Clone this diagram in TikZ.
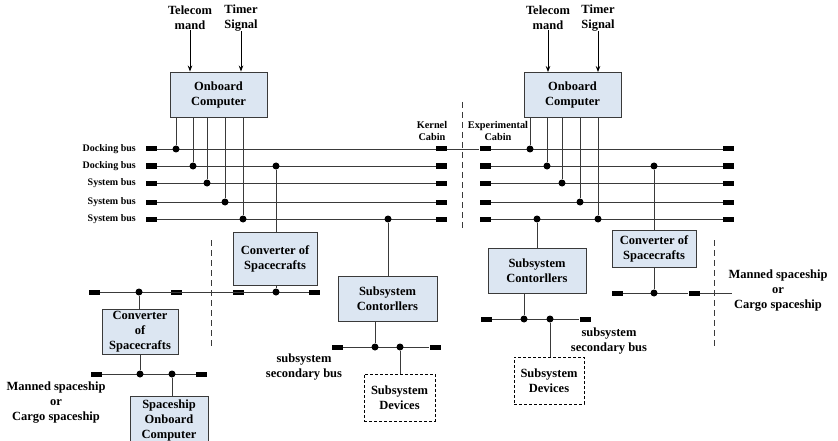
\documentclass[tikz,border=0pt]{standalone}
\usepackage{fontspec}
\setmainfont{Liberation Serif}
\usetikzlibrary{arrows.meta}
\definecolor{boxfill}{HTML}{DCE6F2}
\definecolor{edge}{HTML}{3A3A3A}
\tikzset{
  blk/.style={draw=edge, line width=0.9pt, fill=boxfill, inner sep=0pt, align=center,
    font=\fontsize{12.5}{15}\selectfont\bfseries},
  dblk/.style={draw=black, densely dashed, line width=0.7pt, fill=white, inner sep=0pt, align=center,
    font=\fontsize{12.5}{15}\selectfont\bfseries},
  term/.style={rectangle, fill=black, minimum width=11pt, minimum height=5pt, inner sep=0pt},
  jdot/.style={circle, fill=black, minimum size=7pt, inner sep=0pt},
  lbl/.style={align=center, inner sep=0pt, font=\fontsize{12.5}{15}\selectfont\bfseries},
  slbl/.style={align=center, inner sep=0pt, font=\fontsize{10.3}{12}\selectfont\bfseries},
  buslbl/.style={anchor=east, inner sep=0pt, font=\fontsize{10}{12}\selectfont\bfseries},
  wire/.style={draw=edge, line width=0.8pt},
  sep/.style={draw=edge, dashed, dash pattern=on 6pt off 4pt, line width=0.8pt},
  sig/.style={draw=black, line width=0.8pt, -{Stealth[length=6pt,width=4.5pt]}}
}
\begin{document}
\begin{tikzpicture}[x=1pt,y=-1pt]
\useasboundingbox (0,0) rectangle (838,441);

% ---------- top inputs and computers ----------
\node[lbl] (tcL) at (190,18) {Telecom\\mand};
\node[lbl] (tsL) at (241,18) {Timer\\Signal};
\node[lbl] (tcR) at (548,18) {Telecom\\mand};
\node[lbl] (tsR) at (598,18) {Timer\\Signal};
\node[blk, minimum width=97pt, minimum height=45pt] (ocL) at (218.5,94.5) {Onboard\\Computer};
\node[blk, minimum width=97pt, minimum height=45pt] (ocR) at (572.5,95) {Onboard\\Computer};
\draw[sig] (tcL.south) -- (tcL.south |- ocL.north);
\draw[sig] (tsL.south) -- (tsL.south |- ocL.north);
\draw[sig] (tcR.south) -- (tcR.south |- ocR.north);
\draw[sig] (tsR.south) -- (tsR.south |- ocR.north);

% ---------- bus labels ----------
\node[buslbl] at (136,149) {Docking bus};
\node[buslbl] at (136,166) {Docking bus};
\node[buslbl] at (136,183) {System bus};
\node[buslbl] at (136,202) {System bus};
\node[buslbl] at (136,219) {System bus};
\node[slbl] (kc) at (432,131) {Kernel\\Cabin};
\node[slbl] (ec) at (498,131) {Experimental\\Cabin};

% ---------- main buses ----------
\foreach \i/\y in {1/149,2/166,3/183,4/202,5/219}{
  \node[term] (la\i) at (151.5,\y) {};
  \node[term] (lb\i) at (441.5,\y) {};
  \node[term] (ra\i) at (485,\y) {};
  \node[term] (rb\i) at (728.5,\y) {};
  \draw[wire] (la\i) -- (lb\i);
  \draw[wire] (ra\i) -- (rb\i);
}
\draw[wire] (lb1) -- (ra1);

% separators
\coordinate (s1a) at (462,102); \coordinate (s1b) at (462,230);
\draw[sep] (s1a) -- (s1b);
\coordinate (s2a) at (211,240); \coordinate (s2b) at (211,347);
\draw[sep] (s2a) -- (s2b);
\coordinate (s3a) at (714,240); \coordinate (s3b) at (714,346);
\draw[sep] (s3a) -- (s3b);

% computer taps (left)
\foreach \i/\x/\y in {1/176/149,2/193/166,3/207/183,4/225/202,5/243/219}{
  \node[jdot] (ld\i) at (\x,\y) {};
  \draw[wire] (ld\i) -- (ld\i |- ocL.south);
}
% computer taps (right)
\foreach \i/\x/\y in {1/530/149,2/547/166,3/562/183,4/580/202,5/598/219}{
  \node[jdot] (rd\i) at (\x,\y) {};
  \draw[wire] (rd\i) -- (rd\i |- ocR.south);
}

% ---------- middle converter ----------
\node[jdot] (cvtapL) at (276,166) {};
\node[blk, minimum width=84pt, minimum height=53pt] (cv1) at (275,258.5) {Converter of\\Spacecrafts};
\draw[wire] (cvtapL) -- (cvtapL |- cv1.north);

\node[term] (ma) at (94.5,292) {};
\node[term] (mb) at (176.5,292) {};
\node[term] (mc) at (238,292) {};
\node[term] (md) at (314.5,292) {};
\draw[wire] (ma) -- (md);
\node[jdot] (m1) at (139,292) {};
\node[jdot] (m2) at (276,292) {};
\draw[wire] (m2) -- (m2 |- cv1.south);

% left lower converter
\node[blk, minimum width=76pt, minimum height=45pt] (cv2) at (140,331.5) {Converter\\of\\Spacecrafts};
\draw[wire] (m1) -- (m1 |- cv2.north);
\node[term] (na) at (96,374) {};
\node[term] (nb) at (201.5,374) {};
\draw[wire] (na) -- (nb);
\node[jdot] (n1) at (140,374) {};
\node[jdot] (n2) at (172,374) {};
\draw[wire] (n1) -- (n1 |- cv2.south);
\node[blk, minimum width=78pt, minimum height=48pt] (soc) at (169,420) {Spaceship\\Onboard\\Computer};
\draw[wire] (n2) -- (n2 |- soc.north);
\node[lbl] (msL) at (56,403) {Manned spaceship\\or\\Cargo spaceship};

% ---------- middle subsystem controllers ----------
\node[jdot] (sctapL) at (388,219) {};
\node[blk, minimum width=99pt, minimum height=45pt] (sc1) at (387.5,298.5) {Subsystem\\Contorllers};
\draw[wire] (sctapL) -- (sctapL |- sc1.north);
\node[term] (pa) at (337,347) {};
\node[term] (pb) at (435,347) {};
\draw[wire] (pa) -- (pb);
\node[jdot] (p1) at (375,347) {};
\node[jdot] (p2) at (400,347) {};
\draw[wire] (p1) -- (p1 |- sc1.south);
\node[dblk, minimum width=71pt, minimum height=47pt] (sd1) at (399.5,397.5) {Subsystem\\Devices};
\draw[wire] (p2) -- (p2 |- sd1.north);
\node[lbl] (ssbL) at (304,367) {subsystem\\secondary bus};

% ---------- right subsystem controllers ----------
\node[jdot] (sctapR) at (537,219) {};
\node[blk, minimum width=98pt, minimum height=45pt] (sc2) at (537,270.5) {Subsystem\\Contorllers};
\draw[wire] (sctapR) -- (sctapR |- sc2.north);
\node[term] (qa) at (486.5,319) {};
\node[term] (qb) at (585,319) {};
\draw[wire] (qa) -- (qb);
\node[jdot] (q1) at (524,319) {};
\node[jdot] (q2) at (550,319) {};
\draw[wire] (q1) -- (q1 |- sc2.south);
\node[dblk, minimum width=70pt, minimum height=47pt] (sd2) at (549,380.5) {Subsystem\\Devices};
\draw[wire] (q2) -- (q2 |- sd2.north);
\node[lbl] (ssbR) at (609,341) {subsystem\\secondary bus};

% ---------- right converter ----------
\node[jdot] (cvtapR) at (654,166) {};
\node[blk, minimum width=84pt, minimum height=37pt] (cv3) at (654,248.5) {Converter of\\Spacecrafts};
\draw[wire] (cvtapR) -- (cvtapR |- cv3.north);
\node[term] (ua) at (617.5,293) {};
\node[term] (ub) at (694,293) {};
\coordinate (uend) at (732,293);
\draw[wire] (ua) -- (ub) -- (uend);
\node[jdot] (u1) at (654,293) {};
\draw[wire] (u1) -- (u1 |- cv3.south);
\node[lbl] (msR) at (778,291) {Manned spaceship\\or\\Cargo spaceship};
\end{tikzpicture}
\end{document}
